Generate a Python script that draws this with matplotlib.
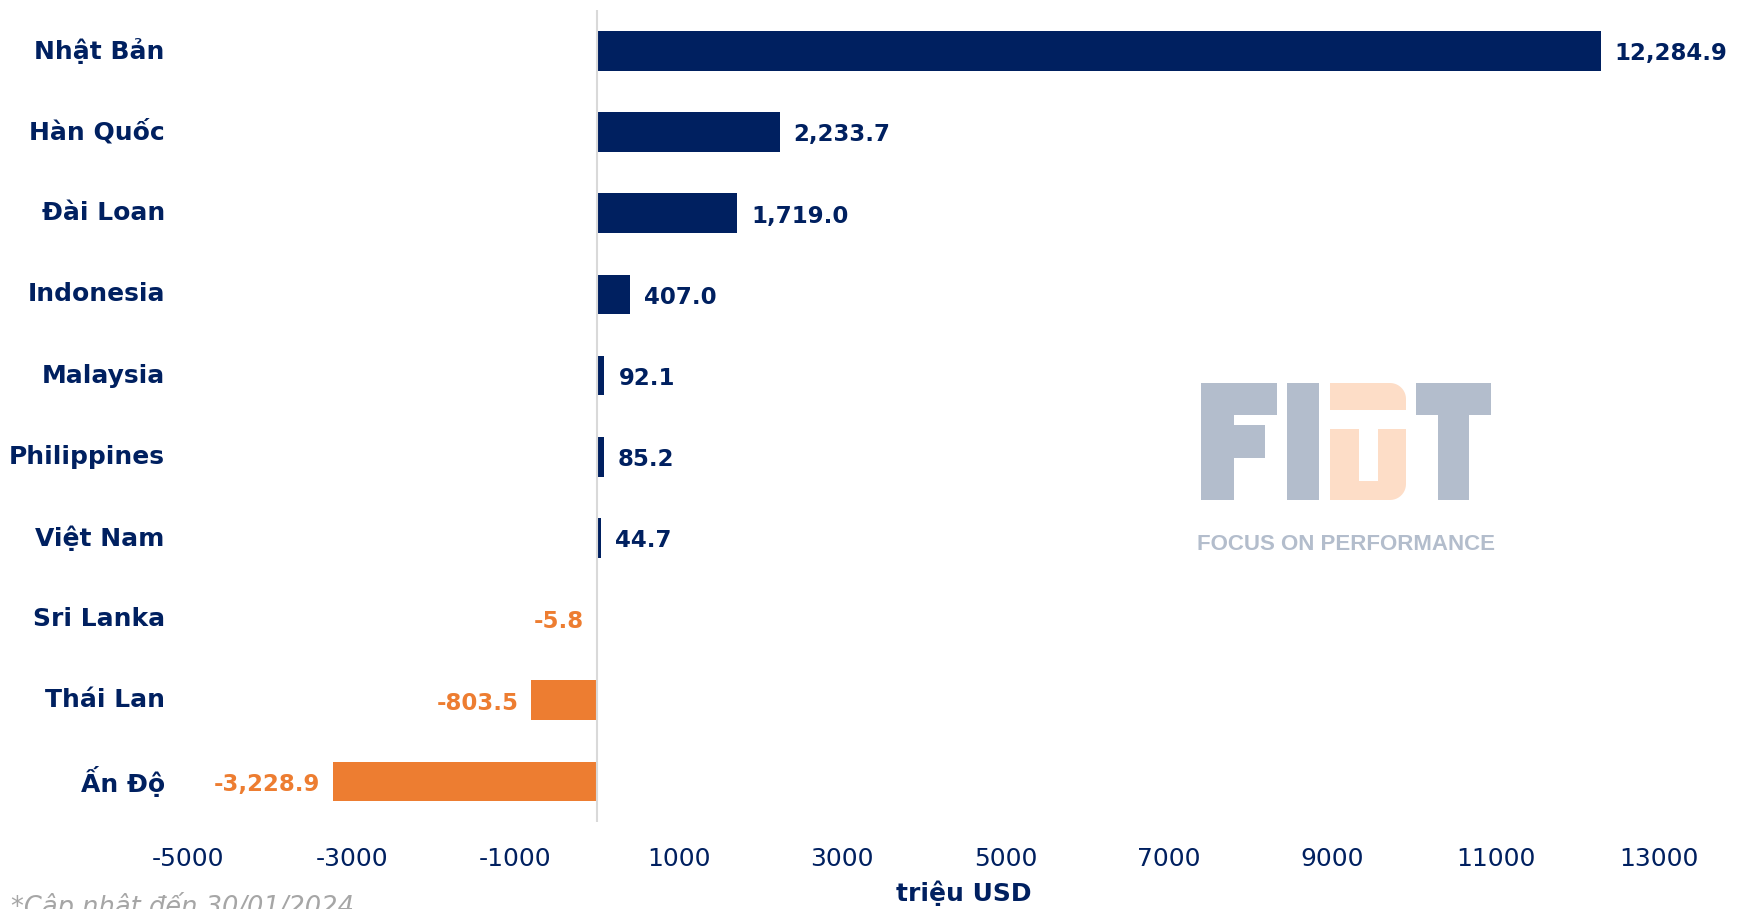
import matplotlib
matplotlib.use("Agg")
import matplotlib.pyplot as plt
from matplotlib.patches import Rectangle, Polygon
import numpy as np

countries = ["Nhật Bản", "Hàn Quốc", "Đài Loan", "Indonesia", "Malaysia",
             "Philippines", "Việt Nam", "Sri Lanka", "Thái Lan", "Ấn Độ"]
values = [12284.9, 2233.7, 1719.0, 407.0, 92.1, 85.2, 44.7, -5.8, -803.5, -3228.9]
xticks = [-5000, -3000, -1000, 1000, 3000, 5000, 7000, 9000, 11000, 13000]
xlabel = "triệu USD"
footnote = "*Cập nhật đến 30/01/2024"

NAVY = "#002060"
ORANGE = "#ED7D31"
plt.rcParams['font.family'] = ['DejaVu Sans']

fig = plt.figure(figsize=(17.38, 9.09), dpi=100)
ax = fig.add_axes([0.1084, 0.0957, 0.8463, 0.8929])

y = list(range(len(countries)))
colors = [NAVY if v >= 0 else ORANGE for v in values]
ax.barh(y, values, height=0.49, color=colors, zorder=2)
ax.set_ylim(len(countries) - 0.5, -0.5)
ax.set_xlim(-5000, 13000)
ax.axvline(0, color="#d9d9d9", lw=1.5, zorder=3)

for s in ax.spines.values():
    s.set_visible(False)
ax.set_yticks(y)
ax.set_yticklabels(countries, fontsize=18, fontweight="bold", color=NAVY)
for lbl in ax.get_yticklabels():
    lbl.set_verticalalignment("center")
ax.tick_params(axis="y", length=0, pad=17)
ax.set_xticks(xticks)
ax.set_xticklabels([str(t) for t in xticks], fontsize=18, color=NAVY)
ax.tick_params(axis="x", length=0, pad=18)

for yi, v, c in zip(y, values, colors):
    txt = f"{v:,.1f}"
    if v >= 0:
        ax.annotate(txt, (v, yi), xytext=(10, -2), textcoords="offset points",
                    ha="left", va="center", fontsize=16.5, fontweight="bold",
                    color=NAVY, annotation_clip=False)
    else:
        ax.annotate(txt, (v, yi), xytext=(-9, -2), textcoords="offset points",
                    ha="right", va="center", fontsize=16.5, fontweight="bold",
                    color=ORANGE, annotation_clip=False)

fig.text(964 / 1738, 1 - 893 / 909, xlabel, ha="center", va="center",
         fontsize=18, fontweight="bold", color=NAVY)
fig.text(11 / 1738, 1 - 892 / 909, footnote, ha="left", va="top",
         fontsize=18.5, style="italic", color="#a6a6a6")

# Watermark logo (decoration)
G = "#B3BDCC"
O = "#FDDDC7"
W, H = 1738, 909
def rect(x0, y0, x1, y1, col):
    fig.patches.append(Rectangle((x0 / W, 1 - y1 / H), (x1 - x0) / W, (y1 - y0) / H,
                                 transform=fig.transFigure, color=col, lw=0, zorder=1))
def poly(pts, col):
    fig.patches.append(Polygon([(px / W, 1 - py / H) for px, py in pts], closed=True,
                               transform=fig.transFigure, color=col, lw=0, zorder=1))
def arc(cx, cy, r, a0, a1, n=12):
    return [(cx + r * np.cos(np.radians(a)), cy - r * np.sin(np.radians(a)))
            for a in np.linspace(a0, a1, n)]
# F
rect(1201, 383, 1234, 500, G)
rect(1201, 383, 1277, 415, G)
rect(1201, 425, 1265, 458, G)
# I
rect(1287, 383, 1319, 500, G)
# D (orange) with T cut-out
r = 16
poly([(1330, 410), (1330, 383)] + arc(1406 - r, 383 + r, r, 90, 0) + [(1406, 410)], O)
poly([(1330, 429), (1359, 429), (1359, 481), (1378, 481), (1378, 429), (1406, 429)]
     + arc(1406 - r, 500 - r, r, 0, -90) + [(1330, 500)], O)
# T
rect(1416, 383, 1491, 415, G)
rect(1438, 383, 1469, 500, G)
fig.text(1346 / W, 1 - 545 / H, "FOCUS ON PERFORMANCE", ha="center", va="center",
         fontsize=16, fontweight="bold", color=G, family="Liberation Sans", zorder=1)

fig.savefig("out.png", dpi=100)
